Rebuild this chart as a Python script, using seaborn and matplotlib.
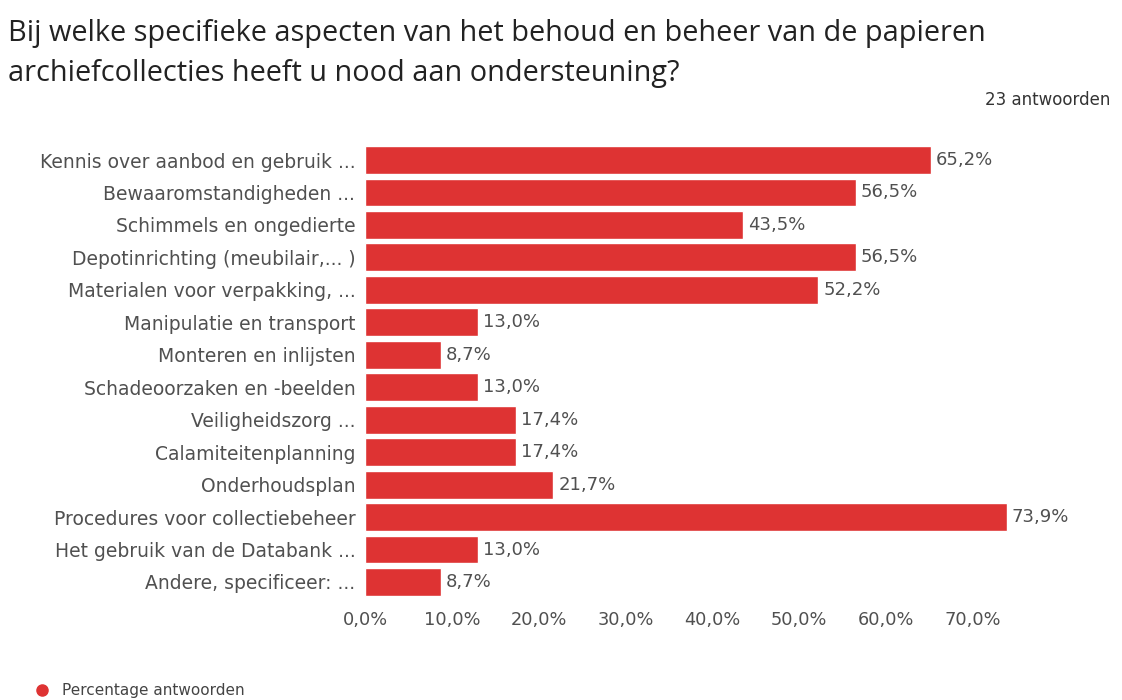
import matplotlib
matplotlib.use("Agg")
import matplotlib.pyplot as plt
from matplotlib.lines import Line2D
import seaborn as sns
import pandas as pd

categories = [
    "Kennis over aanbod en gebruik ...",
    "Bewaaromstandigheden ...",
    "Schimmels en ongedierte",
    "Depotinrichting (meubilair,... )",
    "Materialen voor verpakking, ...",
    "Manipulatie en transport",
    "Monteren en inlijsten",
    "Schadeoorzaken en -beelden",
    "Veiligheidszorg ...",
    "Calamiteitenplanning",
    "Onderhoudsplan",
    "Procedures voor collectiebeheer",
    "Het gebruik van de Databank ...",
    "Andere, specificeer: ...",
]
values = [65.2, 56.5, 43.5, 56.5, 52.2, 13.0, 8.7, 13.0, 17.4, 17.4, 21.7, 73.9, 13.0, 8.7]
ticks = [0, 10, 20, 30, 40, 50, 60, 70]

title_lines = ["Bij welke specifieke aspecten van het behoud en beheer van de papieren",
               "archiefcollecties heeft u nood aan ondersteuning?"]
count_text = "23 antwoorden"
legend_text = "Percentage antwoorden"

sns.set_theme(style="white")
plt.rcParams['font.family'] = ['DejaVu Sans']

df = pd.DataFrame({"cat": categories, "val": values})
bar_color = "#de3333"
text_color = "#505050"

fig = plt.figure(figsize=(11.22, 7.0), dpi=100)
ax = fig.add_axes([0.3253, 0.1454, 0.6194, 0.6492])
sns.barplot(data=df, x="val", y="cat", orient="h", color=bar_color,
            width=0.86, saturation=1, ax=ax)
ax.set_xlim(0, 80)
ax.set_ylim(len(categories) - 0.5, -0.5)
ax.set_xticks(ticks)
ax.set_xticklabels([f"{t:.1f}%".replace(".", ",") for t in ticks])
ax.set_xlabel("")
ax.set_ylabel("")
for s in ax.spines.values():
    s.set_visible(False)
ax.tick_params(axis="y", length=0, labelsize=13.5, colors=text_color, pad=7)
ax.tick_params(axis="x", length=0, labelsize=12.8, colors=text_color, pad=9)
for i, v in enumerate(values):
    ax.text(v + 0.55, i, f"{v:.1f}%".replace(".", ","), va="center", ha="left",
            fontsize=13, color=text_color)

for k, line in enumerate(title_lines):
    fig.text(8 / 1122, 1 - (33 + 40 * k) / 700, line, ha="left", va="center",
             fontsize=20.8, family=["Open Sans", "DejaVu Sans"], color="#222222")
fig.text(1110 / 1122, 1 - 100 / 700, count_text, ha="right", va="center",
         fontsize=12, color="#333333")
fig.add_artist(Line2D([42 / 1122], [1 - 690 / 700], marker="o", markersize=8,
                      color=bar_color, linestyle="none", transform=fig.transFigure))
fig.text(62 / 1122, 1 - 690 / 700, legend_text, ha="left", va="center",
         fontsize=11, color="#444444")

fig.savefig("out.png", dpi=100)
